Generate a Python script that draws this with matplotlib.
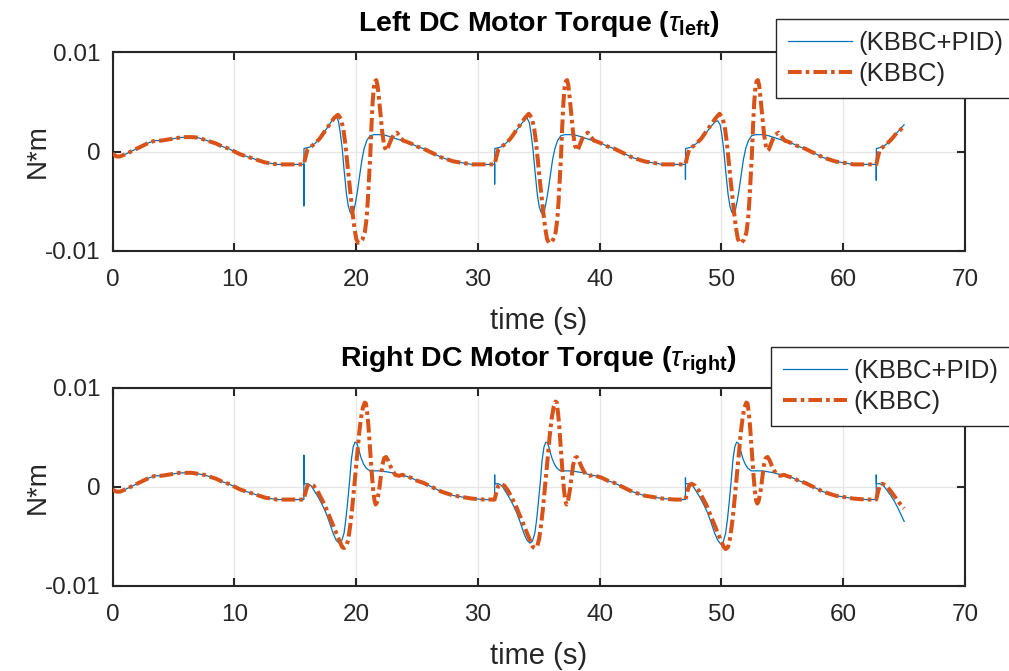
import matplotlib
matplotlib.use("Agg")
import matplotlib.pyplot as plt
import numpy as np

plt.rcParams['font.family'] = ['Liberation Sans', 'DejaVu Sans']
plt.rcParams['mathtext.fontset'] = 'custom'
plt.rcParams['mathtext.rm'] = 'Liberation Sans'
plt.rcParams['mathtext.it'] = 'Liberation Sans:italic'
plt.rcParams['mathtext.bf'] = 'Liberation Sans:bold'

# ---------------- data ----------------
# initial segment 0 .. first switch
start_t = [0.0, 0.3, 0.6, 1.0, 1.5, 2.0, 2.5, 3.0, 3.5, 4.0, 4.5, 5.0, 5.5, 6.0,
           6.5, 7.0, 7.5, 8.0, 8.5, 9.0, 9.5, 10.0, 10.5, 11.0, 11.5, 12.0,
           12.5, 13.0, 13.5, 14.0, 14.5, 15.0, 15.70]
top_start = [-0.0002, -0.0005, -0.0005, -0.0003, 0.0000, 0.0003, 0.0006, 0.0009,
             0.0011, 0.0011, 0.0012, 0.0013, 0.0014, 0.00145, 0.00145, 0.0014,
             0.0012, 0.0010, 0.0008, 0.0005, 0.0003, 0.0000, -0.0003, -0.0005,
             -0.0007, -0.0009, -0.0011, -0.0012, -0.0013, -0.0013, -0.0013,
             -0.0013, -0.0013]
bot_start = [-0.0003, -0.0005, -0.0005, -0.0003, 0.0000, 0.0003, 0.0006, 0.0009,
             0.0011, 0.0011, 0.0012, 0.0013, 0.0014, 0.0014, 0.0014, 0.0013,
             0.0012, 0.0010, 0.0008, 0.0005, 0.0003, 0.0000, -0.0003, -0.0005,
             -0.0007, -0.0009, -0.0011, -0.0012, -0.0013, -0.0013, -0.0013,
             -0.0013, -0.0013]

# switching instants (s)
cycle_starts = [15.70, 31.37, 47.04]
end_start = 62.71

# --- top, KBBC+PID: time since switch and values per cycle
top_pid_rel = [0.0, 0.0, 0.01, 0.5, 0.9, 1.3, 1.7, 2.15, 2.45, 2.65, 2.85, 3.0,
               3.15, 3.3, 3.5, 3.65, 3.8, 3.95, 4.1, 4.25, 4.4, 4.6, 4.76, 4.95,
               5.17, 5.44, 5.8, 6.3, 6.8, 7.3, 7.8, 8.3, 8.8, 9.3, 9.8, 10.3,
               10.8, 11.3, 11.8, 12.3, 12.8, 13.3, 13.8, 14.8, 15.67]
top_pid_c1 = [-0.0013, -0.0055, 0.0003, 0.00045, 0.0008, 0.0013, 0.0020, 0.0028,
              0.0034, 0.0036, 0.0030, 0.0018, 0.0003, -0.0018, -0.0043, -0.0055,
              -0.0061, -0.0064, -0.0060, -0.0051, -0.0040, -0.0023, -0.0009,
              0.0003, 0.0011, 0.0016, 0.0017, 0.0017, 0.0016, 0.0014, 0.0012,
              0.0010, 0.0008, 0.0005, 0.0003, 0.0000, -0.0003, -0.0006, -0.0008,
              -0.0010, -0.0011, -0.0012, -0.0013, -0.0013, -0.0013]
top_pid_c2 = [-0.0013, -0.0033, 0.0003, 0.00045, 0.0008, 0.0013, 0.0020, 0.0027,
              0.0032, 0.0034, 0.0029, 0.0017, 0.0002, -0.0018, -0.0043, -0.0055,
              -0.0061, -0.0063, -0.0059, -0.0050, -0.0039, -0.0022, -0.0008,
              0.0003, 0.0011, 0.0016, 0.0017, 0.0017, 0.0016, 0.0014, 0.0012,
              0.0010, 0.0008, 0.0005, 0.0003, 0.0000, -0.0003, -0.0006, -0.0008,
              -0.0010, -0.0011, -0.0012, -0.0013, -0.0013, -0.0013]
top_pid_c3 = [-0.0013, -0.0028, 0.0003, 0.00045, 0.0008, 0.0013, 0.0019, 0.0026,
              0.0030, 0.0031, 0.0027, 0.0016, 0.0001, -0.0019, -0.0043, -0.0055,
              -0.0061, -0.0063, -0.0059, -0.0050, -0.0039, -0.0022, -0.0008,
              0.0003, 0.0011, 0.0016, 0.0017, 0.0017, 0.0016, 0.0014, 0.0012,
              0.0010, 0.0008, 0.0005, 0.0003, 0.0000, -0.0003, -0.0006, -0.0008,
              -0.0010, -0.0011, -0.0012, -0.0013, -0.0013, -0.0013]
top_pid_end_rel = [0.0, 0.0, 0.01, 0.5, 0.9, 1.3, 1.7, 2.0, 2.29]
top_pid_end = [-0.0013, -0.0029, 0.0003, 0.00045, 0.0008, 0.0013, 0.0019, 0.0023, 0.0027]

# --- top, KBBC
top_kb_rel = [0.0, 0.15, 0.3, 0.6, 0.9, 1.3, 1.7, 2.15, 2.5, 2.8, 3.05, 3.25, 3.4,
              3.55, 3.7, 3.85, 4.0, 4.15, 4.3, 4.45, 4.6, 4.8, 5.0, 5.15, 5.25,
              5.35, 5.45, 5.55, 5.65, 5.75, 5.85, 5.95, 6.05, 6.15, 6.25, 6.35,
              6.45, 6.6, 6.75, 6.85, 7.0, 7.2, 7.4, 7.65, 7.9, 8.15, 8.4, 8.8,
              9.3, 9.8, 10.3, 10.8, 11.3, 11.8, 12.3, 12.8, 13.3, 13.8, 14.8, 15.67]
top_kb_c1 = [-0.0013, -0.0005, 0.0002, 0.0005, 0.0008, 0.0013, 0.0020, 0.0028,
             0.0034, 0.0037, 0.0033, 0.0022, 0.0008, -0.0010, -0.0028, -0.0045,
             -0.0062, -0.0077, -0.0088, -0.0092, -0.0092, -0.0089, -0.0082,
             -0.0068, -0.0050, -0.0028, -0.0005, 0.0025, 0.0050, 0.0065, 0.0071,
             0.0072, 0.0067, 0.0056, 0.0043, 0.0030, 0.0018, 0.0006, 0.0001,
             0.0002, 0.0007, 0.0013, 0.0017, 0.0019, 0.0015, 0.0011, 0.0010,
             0.0008, 0.0005, 0.0003, 0.0000, -0.0003, -0.0006, -0.0008, -0.0010,
             -0.0011, -0.0012, -0.0013, -0.0013, -0.0013]
top_kb_c2 = [-0.0013, -0.0005, 0.0002, 0.0005, 0.0008, 0.0013, 0.0020, 0.0028,
             0.0034, 0.0038, 0.0034, 0.0023, 0.0009, -0.0010, -0.0028, -0.0045,
             -0.0062, -0.0077, -0.0088, -0.0092, -0.0092, -0.0089, -0.0082,
             -0.0068, -0.0050, -0.0028, -0.0005, 0.0025, 0.0050, 0.0065, 0.0071,
             0.0072, 0.0067, 0.0056, 0.0043, 0.0030, 0.0018, 0.0006, 0.0001,
             0.0002, 0.0007, 0.0013, 0.0017, 0.0019, 0.0015, 0.0011, 0.0010,
             0.0008, 0.0005, 0.0003, 0.0000, -0.0003, -0.0006, -0.0008, -0.0010,
             -0.0011, -0.0012, -0.0013, -0.0013, -0.0013]
top_kb_c3 = [-0.0013, -0.0005, 0.0002, 0.0005, 0.0008, 0.0013, 0.0020, 0.0028,
             0.0034, 0.0038, 0.0034, 0.0023, 0.0009, -0.0010, -0.0028, -0.0045,
             -0.0062, -0.0077, -0.0088, -0.0092, -0.0092, -0.0089, -0.0082,
             -0.0068, -0.0050, -0.0028, -0.0005, 0.0025, 0.0050, 0.0065, 0.0071,
             0.0072, 0.0067, 0.0056, 0.0043, 0.0030, 0.0018, 0.0006, 0.0001,
             0.0002, 0.0007, 0.0013, 0.0017, 0.0019, 0.0015, 0.0011, 0.0010,
             0.0008, 0.0005, 0.0003, 0.0000, -0.0003, -0.0006, -0.0008, -0.0010,
             -0.0011, -0.0012, -0.0013, -0.0013, -0.0013]
top_kb_end_rel = [0.0, 0.15, 0.3, 0.6, 0.9, 1.3, 1.7, 2.0, 2.29]
top_kb_end = [-0.0013, -0.0005, 0.0002, 0.0005, 0.0008, 0.0013, 0.0019, 0.0022, 0.0026]

# --- bottom, KBBC+PID
bot_pid_rel = [0.0, 0.0, 0.01, 0.3, 0.6, 0.9, 1.2, 1.5, 1.8, 2.1, 2.4, 2.65, 2.9,
               3.1, 3.3, 3.45, 3.6, 3.75, 3.9, 4.05, 4.2, 4.35, 4.5, 4.7, 4.9,
               5.1, 5.4, 5.8, 6.3, 6.8, 7.3, 7.8, 8.3, 8.8, 9.3, 9.8, 10.3, 10.8,
               11.3, 11.8, 12.3, 12.8, 13.3, 13.8, 14.8, 15.67]
bot_pid_c1 = [-0.0013, 0.0032, 0.0003, 0.0003, 0.0001, -0.0005, -0.0011, -0.0018,
              -0.0026, -0.0036, -0.0047, -0.0054, -0.0057, -0.0055, -0.0047,
              -0.0033, -0.0015, 0.0005, 0.0027, 0.0040, 0.0045, 0.0044, 0.0038,
              0.0029, 0.0023, 0.0019, 0.0016, 0.0016, 0.0016, 0.0015, 0.0014,
              0.0012, 0.0011, 0.0009, 0.0006, 0.0004, 0.0001, -0.0002, -0.0005,
              -0.0007, -0.0009, -0.0010, -0.0011, -0.0012, -0.0013, -0.0013]
bot_pid_c2 = [-0.0013, 0.0012, 0.0003, 0.0003, 0.0001, -0.0005, -0.0011, -0.0018,
              -0.0026, -0.0036, -0.0047, -0.0054, -0.0057, -0.0055, -0.0047,
              -0.0033, -0.0015, 0.0005, 0.0027, 0.0040, 0.0045, 0.0044, 0.0038,
              0.0029, 0.0023, 0.0019, 0.0016, 0.0016, 0.0016, 0.0015, 0.0014,
              0.0012, 0.0011, 0.0009, 0.0006, 0.0004, 0.0001, -0.0002, -0.0005,
              -0.0007, -0.0009, -0.0010, -0.0011, -0.0012, -0.0013, -0.0013]
bot_pid_c3 = [-0.0013, 0.0009, 0.0003, 0.0003, 0.0001, -0.0005, -0.0011, -0.0018,
              -0.0026, -0.0036, -0.0047, -0.0054, -0.0058, -0.0056, -0.0047,
              -0.0033, -0.0015, 0.0005, 0.0027, 0.0040, 0.0045, 0.0044, 0.0038,
              0.0029, 0.0023, 0.0019, 0.0016, 0.0016, 0.0016, 0.0015, 0.0014,
              0.0012, 0.0011, 0.0009, 0.0006, 0.0004, 0.0001, -0.0002, -0.0005,
              -0.0007, -0.0009, -0.0010, -0.0011, -0.0012, -0.0013, -0.0013]
bot_pid_end_rel = [0.0, 0.0, 0.01, 0.3, 0.6, 0.9, 1.2, 1.5, 1.8, 2.1, 2.29]
bot_pid_end = [-0.0013, 0.0012, 0.0003, 0.0003, 0.0001, -0.0004, -0.0009, -0.0015,
               -0.0022, -0.0030, -0.0035]

# --- bottom, KBBC
bot_kb_rel = [0.0, 0.15, 0.3, 0.5, 0.8, 1.1, 1.4, 1.7, 2.0, 2.3, 2.6, 2.9, 3.15,
              3.3, 3.5, 3.65, 3.8, 3.95, 4.1, 4.25, 4.4, 4.55, 4.7, 4.85, 5.0,
              5.1, 5.2, 5.3, 5.4, 5.5, 5.6, 5.7, 5.8, 5.9, 6.0, 6.1, 6.2, 6.3,
              6.45, 6.6, 6.75, 6.9, 7.1, 7.3, 7.5, 7.8, 8.1, 8.3, 8.8, 9.3, 9.8,
              10.3, 10.8, 11.3, 11.8, 12.3, 12.8, 13.3, 13.8, 14.8, 15.67]
bot_kb_c1 = [-0.0013, -0.0005, 0.0001, 0.0003, 0.0001, -0.0004, -0.0011, -0.0018,
             -0.0027, -0.0036, -0.0045, -0.0054, -0.0061, -0.0062, -0.0060,
             -0.0053, -0.0040, -0.0024, -0.0005, 0.0015, 0.0035, 0.0055, 0.0070,
             0.0080, 0.0085, 0.0084, 0.0075, 0.0062, 0.0045, 0.0027, 0.0010,
             -0.0004, -0.0014, -0.0018, -0.0016, -0.0009, -0.0002, 0.0008,
             0.0022, 0.0029, 0.0030, 0.0027, 0.0021, 0.0016, 0.0012, 0.0011,
             0.0012, 0.0011, 0.0009, 0.0006, 0.0004, 0.0001, -0.0002, -0.0005,
             -0.0007, -0.0009, -0.0010, -0.0011, -0.0012, -0.0013, -0.0013]
bot_kb_c2 = [-0.0013, -0.0005, 0.0001, 0.0003, 0.0001, -0.0004, -0.0011, -0.0018,
             -0.0027, -0.0036, -0.0045, -0.0054, -0.0061, -0.0062, -0.0060,
             -0.0053, -0.0040, -0.0024, -0.0005, 0.0015, 0.0035, 0.0055, 0.0070,
             0.0081, 0.0086, 0.0085, 0.0075, 0.0062, 0.0045, 0.0027, 0.0010,
             -0.0004, -0.0014, -0.0018, -0.0016, -0.0009, -0.0002, 0.0008,
             0.0022, 0.0029, 0.0030, 0.0027, 0.0021, 0.0016, 0.0012, 0.0011,
             0.0012, 0.0011, 0.0009, 0.0006, 0.0004, 0.0001, -0.0002, -0.0005,
             -0.0007, -0.0009, -0.0010, -0.0011, -0.0012, -0.0013, -0.0013]
bot_kb_c3 = [-0.0013, -0.0005, 0.0001, 0.0003, 0.0001, -0.0004, -0.0011, -0.0018,
             -0.0027, -0.0036, -0.0045, -0.0054, -0.0061, -0.0063, -0.0061,
             -0.0053, -0.0040, -0.0024, -0.0005, 0.0015, 0.0035, 0.0055, 0.0070,
             0.0080, 0.0085, 0.0084, 0.0075, 0.0062, 0.0045, 0.0027, 0.0010,
             -0.0004, -0.0014, -0.0017, -0.0015, -0.0009, -0.0002, 0.0008,
             0.0022, 0.0029, 0.0030, 0.0027, 0.0021, 0.0016, 0.0012, 0.0011,
             0.0012, 0.0011, 0.0009, 0.0006, 0.0004, 0.0001, -0.0002, -0.0005,
             -0.0007, -0.0009, -0.0010, -0.0011, -0.0012, -0.0013, -0.0013]
bot_kb_end_rel = [0.0, 0.15, 0.3, 0.5, 0.8, 1.1, 1.4, 1.7, 2.0, 2.29]
bot_kb_end = [-0.0013, -0.0005, 0.0001, 0.0003, 0.0001, -0.0003, -0.0008, -0.0013,
              -0.0018, -0.0022]

x_ticks = [0, 10, 20, 30, 40, 50, 60, 70]
y_ticks = [-0.01, 0, 0.01]
y_tick_labels = ['-0.01', '0', '0.01']
legend_labels = ['(KBBC+PID)', '(KBBC)']
titles = [r'Left DC Motor Torque ($\tau_{\mathbf{left}}$)',
          r'Right DC Motor Torque ($\tau_{\mathbf{right}}$)']


def assemble(start_vals, rel, cycles, end_rel, end_vals):
    t = list(start_t)
    v = list(start_vals)
    for s, vals in zip(cycle_starts, cycles):
        t += [s + r for r in rel]
        v += list(vals)
    t += [end_start + r for r in end_rel]
    v += list(end_vals)
    return np.array(t), np.array(v)


series = [
    (assemble(top_start, top_pid_rel, [top_pid_c1, top_pid_c2, top_pid_c3], top_pid_end_rel, top_pid_end),
     assemble(top_start, top_kb_rel, [top_kb_c1, top_kb_c2, top_kb_c3], top_kb_end_rel, top_kb_end)),
    (assemble(bot_start, bot_pid_rel, [bot_pid_c1, bot_pid_c2, bot_pid_c3], bot_pid_end_rel, bot_pid_end),
     assemble(bot_start, bot_kb_rel, [bot_kb_c1, bot_kb_c2, bot_kb_c3], bot_kb_end_rel, bot_kb_end)),
]

# ---------------- figure ----------------
W, H = 1009, 671
fig = plt.figure(figsize=(W / 100, H / 100), dpi=100)

ax_boxes = [(112.7, 52.3, 965, 250.7), (112.7, 387.7, 965, 585.7)]
legend_tops = [(776, 19), (771, 347)]
blue = '#0072BD'
orange = '#D95319'
dark = '#262626'

for i, ((tp, vp), (tk, vk)) in enumerate(series):
    x0, y0, x1, y1 = ax_boxes[i]
    ax = fig.add_axes([x0 / W, 1 - y1 / H, (x1 - x0) / W, (y1 - y0) / H])
    l1, = ax.plot(tp, vp, color=blue, lw=0.9, zorder=3)
    l2, = ax.plot(tk, vk, color=orange, lw=2.9, zorder=4,
                  dashes=(3.4, 1.0, 0.9, 1.0), solid_capstyle='butt',
                  dash_capstyle='butt')
    ax.set_xlim(0, 70)
    ax.set_ylim(-0.01, 0.01)
    ax.set_xticks(x_ticks)
    ax.set_yticks(y_ticks)
    ax.set_yticklabels(y_tick_labels)
    ax.grid(True, color='#e6e6e6', lw=0.9, zorder=0)
    ax.set_axisbelow(True)
    for sp in ax.spines.values():
        sp.set_color(dark)
        sp.set_linewidth(1.5)
    ax.tick_params(direction='in', length=6, width=1.5, color=dark,
                   top=True, right=True, labelsize=17.5, labelcolor=dark)
    ax.tick_params(axis='x', pad=13)
    ax.tick_params(axis='y', pad=9)
    ax.set_xlabel('time (s)', fontsize=21, color=dark, labelpad=12)
    ax.set_ylabel('N*m', fontsize=20, color=dark)
    ax.yaxis.set_label_coords(-0.073, 0.5)
    ax.set_title(titles[i], fontsize=20.5, fontweight='bold', color='black', pad=15)
    lx, ly = legend_tops[i]
    leg = ax.legend([l1, l2], legend_labels, loc='upper left',
                    bbox_to_anchor=(lx / W, 1 - ly / H),
                    bbox_transform=fig.transFigure, borderaxespad=0,
                    fancybox=False, framealpha=1, edgecolor=dark,
                    fontsize=18.5, handlelength=2.5, handletextpad=0.27,
                    labelspacing=0.3, borderpad=0.45)
    leg.get_frame().set_linewidth(1.0)
    for txt in leg.get_texts():
        txt.set_color(dark)

fig.savefig('out.png', dpi=100)
